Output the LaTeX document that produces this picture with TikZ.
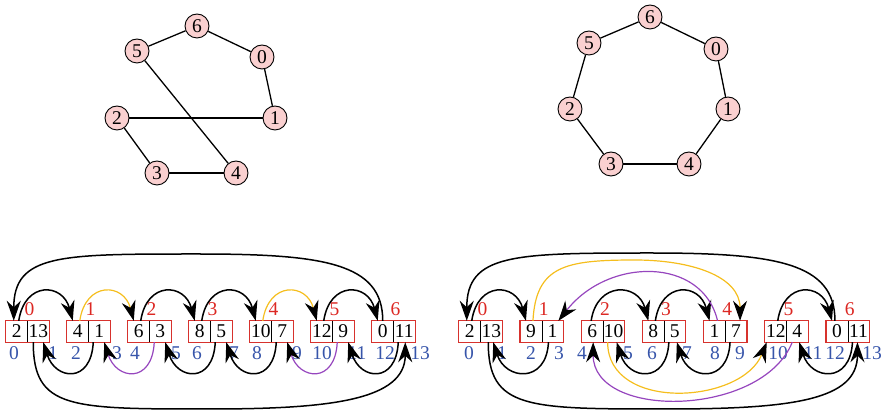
\documentclass[tikz,border=0pt]{standalone}
\usepackage{fontspec}
\setmainfont{Liberation Serif}
\usetikzlibrary{arrows.meta}
\definecolor{boxred}{RGB}{215,50,45}
\definecolor{labred}{RGB}{220,40,35}
\definecolor{labblue}{RGB}{55,85,170}
\definecolor{arcyellow}{RGB}{245,190,30}
\definecolor{arcpurple}{RGB}{150,70,190}
\definecolor{nodepink}{RGB}{250,208,208}
\begin{document}
\begin{tikzpicture}[x=1pt,y=-1pt,
  font=\fontsize{19.5}{21}\selectfont,
  vert/.style={circle, draw=black, line width=0.9pt, fill=nodepink, minimum size=24pt, inner sep=0pt},
  gedge/.style={line width=1.3pt},
  cell/.style={minimum width=21.5pt, minimum height=21pt, inner sep=0pt},
  boxframe/.style={draw=boxred, line width=1.2pt},
  divider/.style={line width=0.8pt},
  arc/.style={line width=1.5pt, -{Stealth[length=20pt,width=14pt,inset=6.5pt,color=black]}},
  yarc/.style={arc, draw=arcyellow, line width=1.2pt},
  parc/.style={arc, draw=arcpurple, line width=1.2pt},
  idxred/.style={text=labred, inner sep=0pt},
  idxblue/.style={text=labblue, inner sep=0pt}]
\useasboundingbox (0,0) rectangle (887,411);

% ---------- left graph ----------
\node[vert] (g6) at (197,26) {6};
\node[vert] (g5) at (137,51) {5};
\node[vert] (g0) at (262,57) {0};
\node[vert] (g2) at (117,118) {2};
\node[vert] (g1) at (275,118) {1};
\node[vert] (g3) at (157,173) {3};
\node[vert] (g4) at (236,173) {4};
\draw[gedge] (g6) -- (g5);
\draw[gedge] (g6) -- (g0);
\draw[gedge] (g0) -- (g1);
\draw[gedge] (g1) -- (g2);
\draw[gedge] (g2) -- (g3);
\draw[gedge] (g3) -- (g4);
\draw[gedge] (g4) -- (g5);

% ---------- right graph ----------
\node[vert] (h6) at (650,17) {6};
\node[vert] (h5) at (589,43) {5};
\node[vert] (h0) at (716,49) {0};
\node[vert] (h2) at (570,109) {2};
\node[vert] (h1) at (728,109) {1};
\node[vert] (h3) at (611,164) {3};
\node[vert] (h4) at (689,164) {4};
\draw[gedge] (h6) -- (h5);
\draw[gedge] (h6) -- (h0);
\draw[gedge] (h0) -- (h1);
\draw[gedge] (h1) -- (h4);
\draw[gedge] (h4) -- (h3);
\draw[gedge] (h3) -- (h2);
\draw[gedge] (h2) -- (h5);

% ---------- left array ----------
\foreach \i/\a/\b in {0/2/13,1/4/1,2/6/3,3/8/5,4/10/7,5/12/9,6/0/11} {
  \node[cell] (aL\i) at ({6+61*\i+10.75},331.5) {\a};
  \node[cell] (aR\i) at ({6+61*\i+32.25},331.5) {\b};
  \draw[boxframe] (aL\i.north west) rectangle (aR\i.south east);
  \draw[divider] (aL\i.north east) -- (aL\i.south east);
  \node[idxred] (ar\i) at ({6+61*\i+23.5},309) {\i};
}
\foreach \k/\x in {0/14,1/53,2/76,3/117,4/135,5/176,6/197,7/234,8/257,9/297,10/322,11/357,12/385,13/420}
  \node[idxblue] (ab\k) at (\x,353) {\k};

% ---------- right array ----------
\foreach \i/\a/\b in {0/2/13,1/9/1,2/6/10,3/8/5,4/1/7,5/12/4,6/0/11} {
  \node[cell] (bL\i) at ({459+61.2*\i+10.75},331.5) {\a};
  \node[cell] (bR\i) at ({459+61.2*\i+32.25},331.5) {\b};
  \draw[boxframe] (bL\i.north west) rectangle (bR\i.south east);
  \draw[divider] (bL\i.north east) -- (bL\i.south east);
  \node[idxred] (br\i) at ({459+61.2*\i+23.5},309) {\i};
}
\foreach \k/\x in {0/469,1/502,2/531,3/559,4/582,5/628,6/652,7/687,8/715,9/740,10/778,11/813,12/835,13/872}
  \node[idxblue] (bb\k) at (\x,353) {\k};

% ---------- left array arcs ----------
\draw[arc]  ([xshift=2pt]aL0.north) .. controls +(6,-40) and +(-10,-38) .. ([xshift=-5pt]aL1.north);
\draw[yarc] ([xshift=2pt]aL1.north) .. controls +(6,-40) and +(-10,-38) .. ([xshift=-5pt]aL2.north);
\draw[arc]  ([xshift=2pt]aL2.north) .. controls +(6,-40) and +(-10,-38) .. ([xshift=-5pt]aL3.north);
\draw[arc]  ([xshift=2pt]aL3.north) .. controls +(6,-40) and +(-10,-38) .. ([xshift=-5pt]aL4.north);
\draw[yarc] ([xshift=2pt]aL4.north) .. controls +(6,-40) and +(-10,-38) .. ([xshift=-5pt]aL5.north);
\draw[arc]  ([xshift=2pt]aL5.north) .. controls +(6,-40) and +(-10,-38) .. ([xshift=-5pt]aL6.north);

\draw[arc]  ([xshift=-6pt]aR1.south) .. controls +(-2,42) and +(12,38) .. ([xshift=5pt]aR0.south);
\draw[parc] ([xshift=-6pt]aR2.south) .. controls +(-2,42) and +(12,38) .. ([xshift=5pt]aR1.south);
\draw[arc]  ([xshift=-6pt]aR3.south) .. controls +(-2,42) and +(12,38) .. ([xshift=5pt]aR2.south);
\draw[arc]  ([xshift=-6pt]aR4.south) .. controls +(-2,42) and +(12,38) .. ([xshift=5pt]aR3.south);
\draw[parc] ([xshift=-6pt]aR5.south) .. controls +(-2,42) and +(12,38) .. ([xshift=5pt]aR4.south);
\draw[arc]  ([xshift=-6pt]aR6.south) .. controls +(-2,42) and +(12,38) .. ([xshift=5pt]aR5.south);

\coordinate (atop) at (198,254);
\draw[arc] (aL6.north) .. controls +(0,-58) and +(125,0) .. (atop)
           .. controls +(-138,0) and +(0,-67) .. ([xshift=-3pt]aL0.north);
\coordinate (abot) at (210,409);
\draw[arc] ([xshift=-5pt]aR0.south) .. controls +(0,67) and +(-140,0) .. (abot)
           .. controls +(120,0) and +(0,58) .. ([xshift=1pt]aR6.south);

% ---------- right array arcs ----------
\draw[arc] ([xshift=2pt]bL0.north) .. controls +(6,-40) and +(-10,-38) .. ([xshift=-5pt]bL1.north);
\draw[arc] ([xshift=-1pt]bL2.north) .. controls +(6,-40) and +(-10,-38) .. ([xshift=-5pt]bL3.north);
\draw[arc] ([xshift=2pt]bL3.north) .. controls +(6,-40) and +(-10,-38) .. ([xshift=-5pt]bL4.north);
\draw[arc] ([xshift=2pt]bL5.north) .. controls +(6,-40) and +(-10,-38) .. ([xshift=-5pt]bL6.north);

\draw[arc] ([xshift=-4pt]bR1.south) .. controls +(-2,42) and +(12,38) .. ([xshift=2pt]bR0.south);
\draw[arc] ([xshift=-6pt]bR3.south) .. controls +(-2,42) and +(12,38) .. ([xshift=3pt]bR2.south);
\draw[arc] ([xshift=-6pt]bR4.south) .. controls +(-2,42) and +(12,38) .. ([xshift=2pt]bR3.south);
\draw[arc] ([xshift=-6pt]bR6.south) .. controls +(-2,42) and +(12,38) .. ([xshift=2pt]bR5.south);

\coordinate (ytop) at (635,260);
\draw[yarc] ([xshift=2pt]bL1.north) .. controls +(3,-55) and +(-70,0) .. (ytop)
            .. controls +(55,0) and +(0,-45) .. ([xshift=4pt]bR4.north);
\draw[parc] ([xshift=3pt]bL4.north) .. controls +(-15,-64) and +(50,-64) .. ([xshift=6pt]bR1.north);

\draw[yarc] ([xshift=-6pt]bR2.south) .. controls +(0,70) and +(-25,62) .. ([xshift=-9pt]bL5.south);
\draw[parc] ([xshift=-5pt]bR5.south) .. controls +(-30,75) and +(0,78) .. ([xshift=1pt]bL2.south);

\coordinate (btop) at (651,253);
\draw[arc] ([xshift=-2pt]bL6.north) .. controls +(0,-58) and +(125,0) .. (btop)
           .. controls +(-138,0) and +(0,-67) .. ([xshift=-3pt]bL0.north);
\coordinate (bbot) at (667,409);
\draw[arc] ([xshift=-3pt]bR0.south) .. controls +(0,67) and +(-140,0) .. (bbot)
           .. controls +(125,0) and +(0,58) .. ([xshift=-1pt]bR6.south);
\end{tikzpicture}
\end{document}
